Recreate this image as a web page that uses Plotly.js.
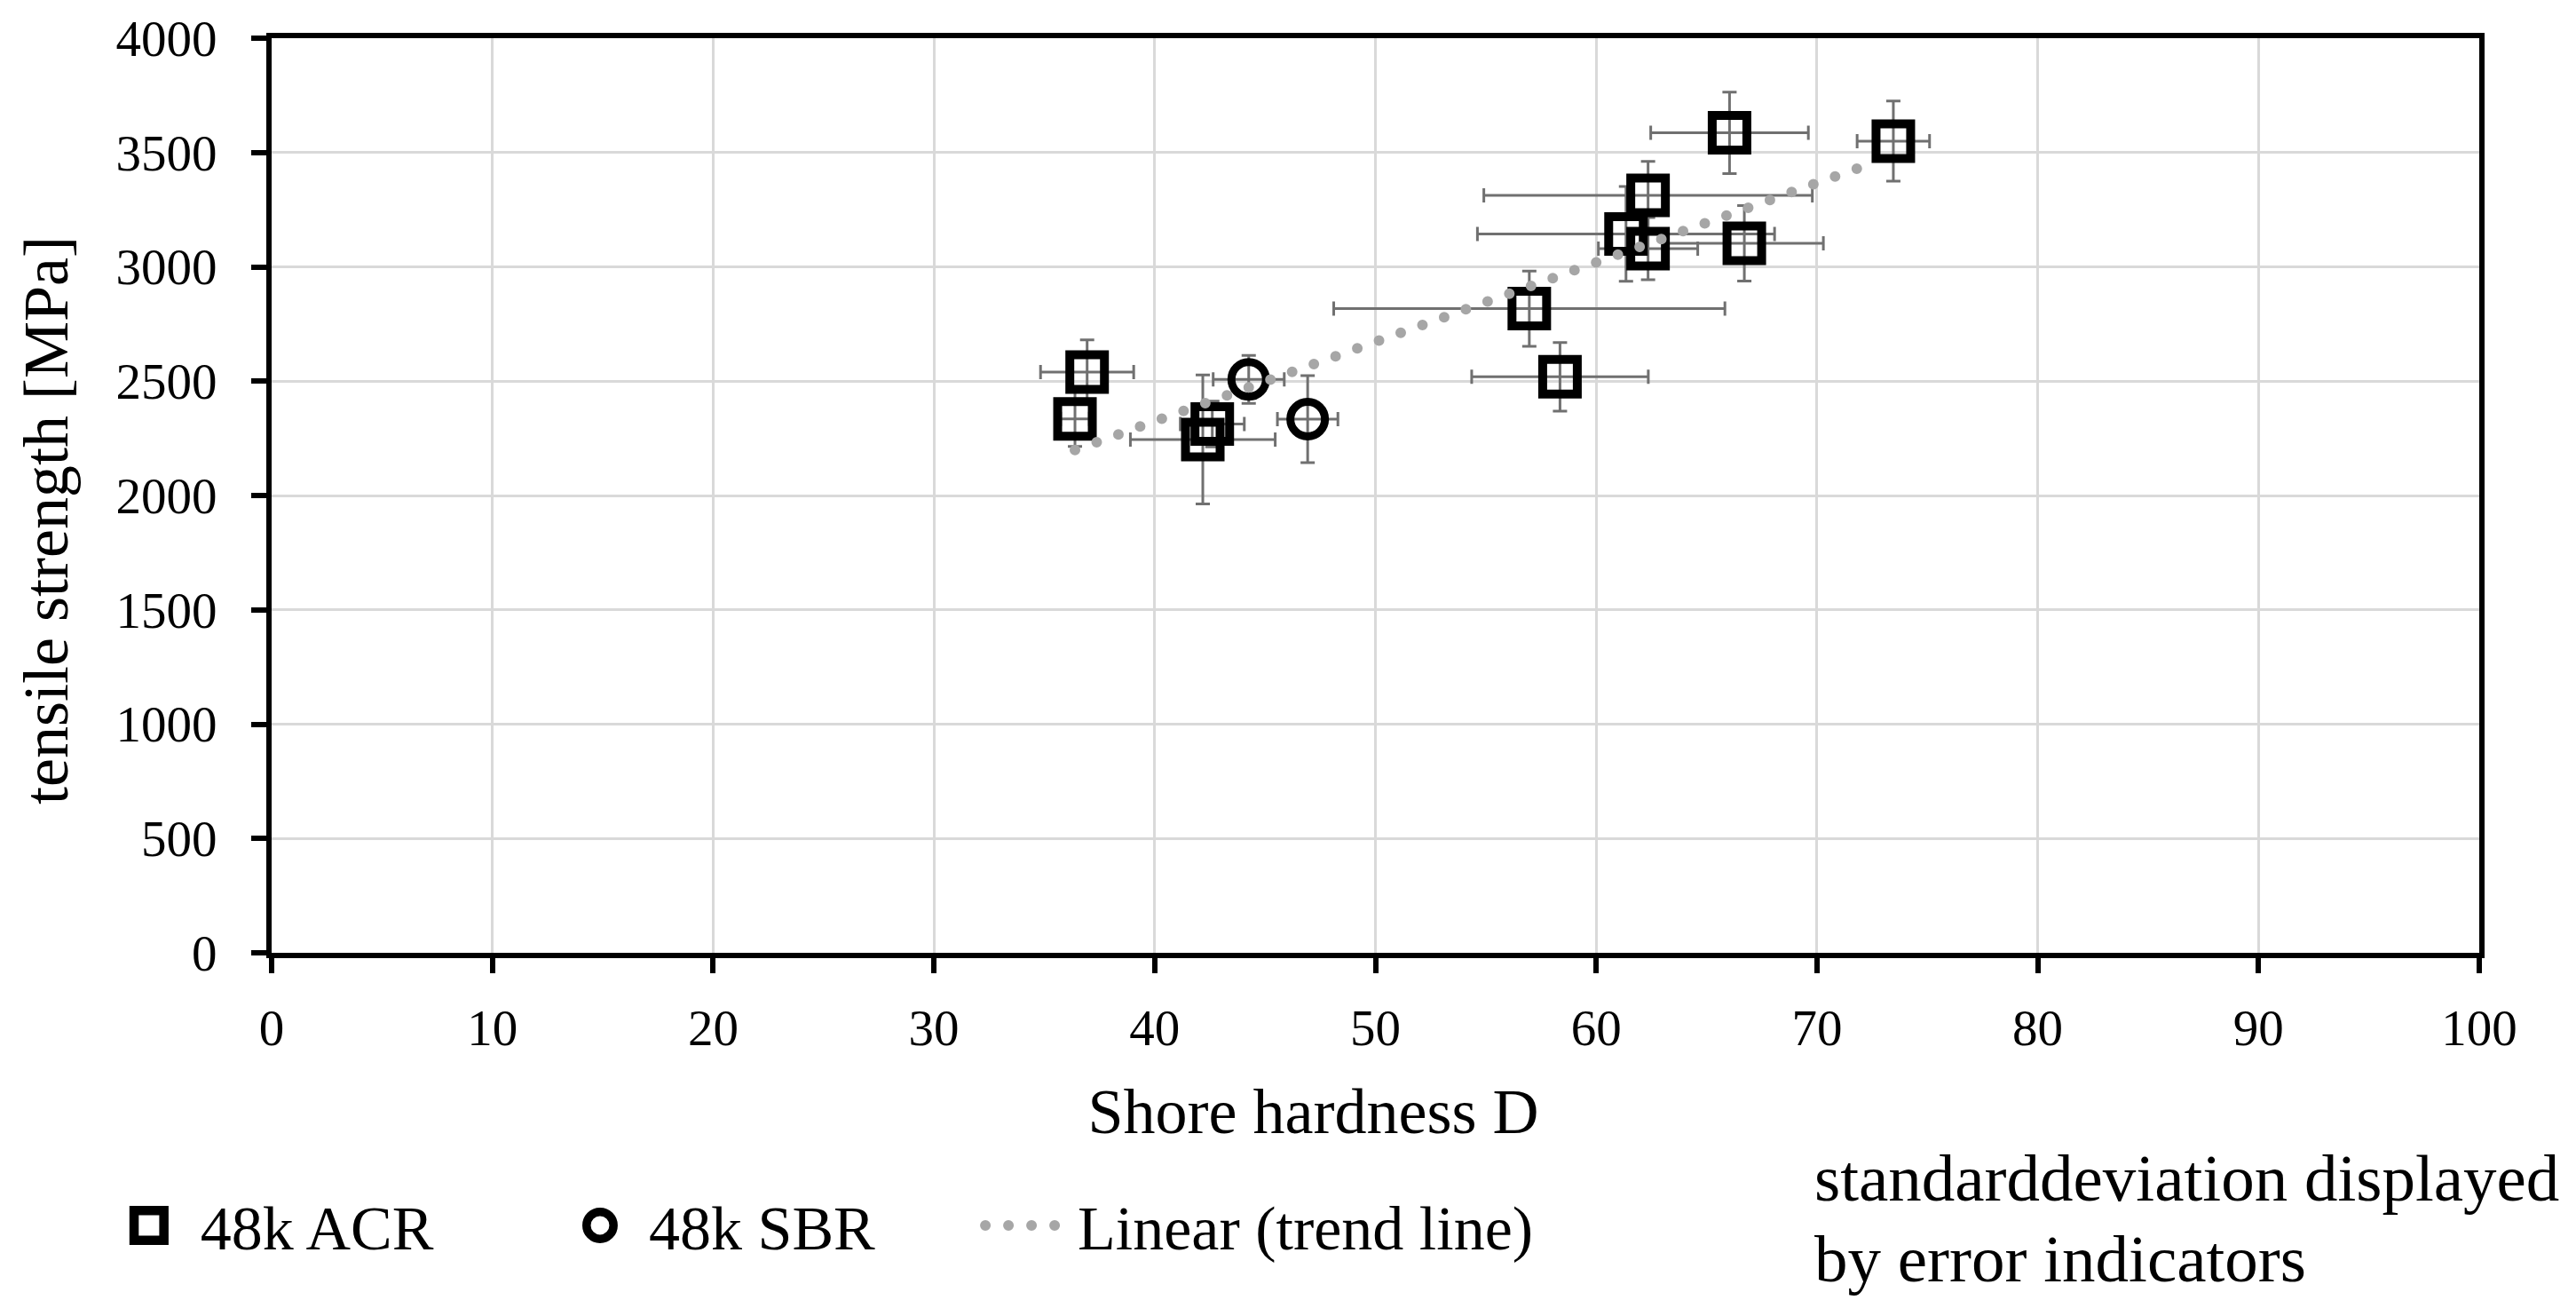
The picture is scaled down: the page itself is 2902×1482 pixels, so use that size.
<!DOCTYPE html>
<html>
<head>
<meta charset="utf-8">
<script src="https://cdn.plot.ly/plotly-3.0.1.min.js"></script>
<style>
  html, body { margin: 0; padding: 0; background: #fff; }
  #chart { width: 2902px; height: 1482px; }
  .scatterlayer .js-line { stroke-linecap: round; }
  .legend .legendpoints path.scatterpts { transform: translate(24px, 0px) scale(2.1); }
  .legend2 .legendpoints path.scatterpts { transform: translate(27px, 0px) scale(1.9); }
  .legend3 .legendlines path { d: path("M6,0h80"); stroke-width: 12px !important; stroke-linecap: round; }
  .xtitle { transform: translate(-70px, 0px); }
  .ytitle { transform-box: fill-box; transform-origin: center; transform: translate(-16px, 52px) rotate(-90deg); }
</style>
</head>
<body>
<div id="chart"></div>
<script>
// 48k ACR: Shore hardness D, tensile strength [MPa], standard deviations
const acrX  = [36.39, 36.94, 42.18, 42.61, 56.97, 58.36, 61.35, 62.35, 62.35, 66.04, 66.71, 73.46];
const acrY  = [2335, 2540, 2245, 2313, 2817, 2519, 3144, 3313, 3080, 3586, 3103, 3550];
const acrEX = [0.65, 2.11, 3.28, 1.45, 8.86, 4.0, 6.73, 7.44, 2.25, 3.57, 3.58, 1.64];
const acrEY = [120, 141, 282, 100, 165, 150, 207, 148, 136, 178, 165, 175];

// 48k SBR
const sbrX  = [44.26, 46.93];
const sbrY  = [2508, 2334];
const sbrEX = [1.61, 1.37];
const sbrEY = [105, 190];

// Linear trend line (end points as drawn)
const trendX = [36.39, 72.6];
const trendY = [2199, 3457];

const xTicks = [0, 10, 20, 30, 40, 50, 60, 70, 80, 90, 100];
const yTicks = [0, 500, 1000, 1500, 2000, 2500, 3000, 3500, 4000];

const FONT = 'Liberation Serif, Times New Roman, serif';
const errStyle = { color: '#707070', thickness: 3, width: 8 };

const traces = [
  {
    name: '48k ACR', x: acrX, y: acrY, type: 'scatter', mode: 'markers',
    marker: { symbol: 'square-open', size: 39, color: '#000', line: { width: 10, color: '#000' } },
    error_x: Object.assign({ type: 'data', array: acrEX, visible: true }, errStyle),
    error_y: Object.assign({ type: 'data', array: acrEY, visible: true }, errStyle),
    legend: 'legend'
  },
  {
    name: '48k SBR', x: sbrX, y: sbrY, type: 'scatter', mode: 'markers',
    marker: { symbol: 'circle-open', size: 39, color: '#000', line: { width: 9, color: '#000' } },
    error_x: Object.assign({ type: 'data', array: sbrEX, visible: true }, errStyle),
    error_y: Object.assign({ type: 'data', array: sbrEY, visible: true }, errStyle),
    legend: 'legend2'
  },
  {
    name: 'Linear (trend line)', x: trendX, y: trendY, type: 'scatter', mode: 'lines',
    line: { color: '#a6a6a6', width: 12, dash: '0px,26px' },
    legend: 'legend3'
  }
];

const legendBase = {
  orientation: 'h', xanchor: 'left', yanchor: 'middle', y: -0.298,
  bgcolor: 'rgba(0,0,0,0)', font: { family: FONT, size: 70, color: '#000' }
};

const layout = {
  width: 2902, height: 1482,
  margin: { l: 306, r: 109, t: 43, b: 409 },
  paper_bgcolor: '#fff', plot_bgcolor: '#fff',
  showlegend: true,
  xaxis: {
    range: [0, 100], autorange: false, tickvals: xTicks, ticktext: xTicks.map(String),
    showgrid: true, gridcolor: '#d9d9d9', gridwidth: 3, zeroline: false,
    showline: true, linecolor: '#000', linewidth: 6, mirror: true,
    ticks: 'outside', ticklen: 17, tickwidth: 6, tickcolor: '#000',
    ticklabelstandoff: 13,
    tickfont: { family: FONT, size: 57, color: '#000' },
    title: { text: 'Shore hardness D', font: { family: FONT, size: 72, color: '#000' }, standoff: 39 }
  },
  yaxis: {
    range: [0, 4000], autorange: false, tickvals: yTicks, ticktext: yTicks.map(String),
    showgrid: true, gridcolor: '#d9d9d9', gridwidth: 3, zeroline: false,
    showline: true, linecolor: '#000', linewidth: 6, mirror: true,
    ticks: 'outside', ticklen: 17, tickwidth: 6, tickcolor: '#000',
    ticklabelstandoff: 27,
    tickfont: { family: FONT, size: 57, color: '#000' },
    title: { text: 'tensile strength [MPa]', font: { family: FONT, size: 72, color: '#000' }, standoff: 40 }
  },
  legend: Object.assign({}, legendBase, { x: -0.0652, itemwidth: 72 }),
  legend2: Object.assign({}, legendBase, { x: 0.1379, itemwidth: 72 }),
  legend3: Object.assign({}, legendBase, { x: 0.3209, itemwidth: 100 }),
  annotations: [
    { xref: 'paper', yref: 'paper', x: 0.698, y: -0.2466, xanchor: 'left', yanchor: 'middle',
      text: 'standarddeviation displayed', showarrow: false, font: { family: FONT, size: 75, color: '#000' } },
    { xref: 'paper', yref: 'paper', x: 0.698, y: -0.334, xanchor: 'left', yanchor: 'middle',
      text: 'by error indicators', showarrow: false, font: { family: FONT, size: 75, color: '#000' } }
  ]
};

Plotly.newPlot('chart', traces, layout, { displayModeBar: false, responsive: false });
</script>
</body>
</html>
